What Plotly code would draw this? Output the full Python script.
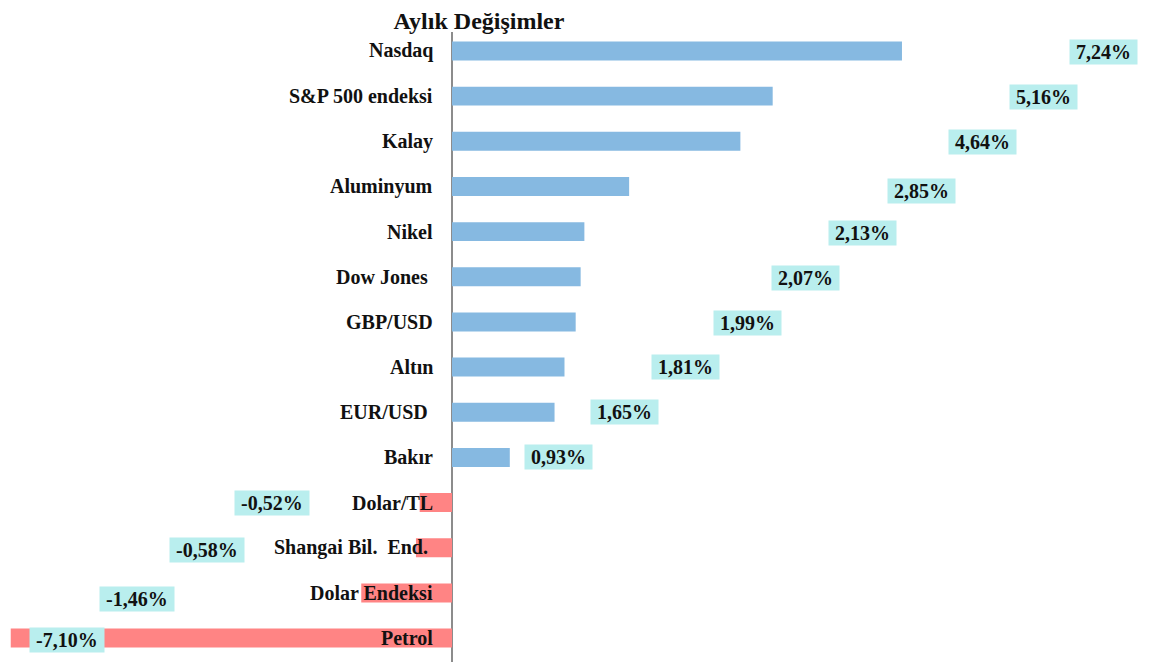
import plotly.graph_objects as go

# ---- data (top to bottom) ----
categories = ["Nasdaq", "S&P 500 endeksi", "Kalay", "Aluminyum", "Nikel",
              "Dow Jones\u00a0", "GBP/USD", "Altın", "EUR/USD\u00a0", "Bakır",
              "Dolar/TL", "Shangai Bil.\u00a0 End.\u00a0", "Dolar Endeksi", "Petrol"]
values = [7.24, 5.16, 4.64, 2.85, 2.13, 2.07, 1.99, 1.81, 1.65, 0.93,
          -0.52, -0.58, -1.46, -7.10]
value_labels = ["7,24%", "5,16%", "4,64%", "2,85%", "2,13%", "2,07%", "1,99%",
                "1,81%", "1,65%", "0,93%", "-0,52%", "-0,58%", "-1,46%", "-7,10%"]
title_text = "Aylık Değişimler"

# ---- layout helpers (label placement, in axis units / px) ----
label_x = [10.49, 9.52, 8.54, 7.56, 6.60, 5.68, 4.76, 3.75, 2.77, 1.71,
           -2.90, -3.94, -5.07, -6.19]
label_dy = [-1, -1, -1, -5, -1, -1, -1, 0, 0, 0, 0, -2, -6, -2]

POS = "#86B9E1"
NEG = "#FF8484"
BOX = "#B9EEEE"
FONT = "Liberation Serif"
NB = "\u00a0"

W, H = 1141, 654          # page body has an 8px margin
AXIS_PX = 444             # x=0 position inside the figure
PX_PER_UNIT = 62.15

colors = [POS if v >= 0 else NEG for v in values]
idx = list(range(len(categories)))

fig = go.Figure()
fig.add_trace(go.Bar(
    x=values, y=idx, orientation="h",
    marker=dict(color=colors, line=dict(width=0)),
    width=0.42, hoverinfo="skip",
))

annotations = []
for i, c in enumerate(categories):
    annotations.append(dict(
        x=0, y=i, xref="x", yref="y", text=f"<b>{c}</b>", showarrow=False,
        xanchor="right", yanchor="middle", xshift=-17,
        font=dict(family=FONT, size=20, color="#111111"),
    ))
for i, t in enumerate(value_labels):
    annotations.append(dict(
        x=label_x[i], y=i, xref="x", yref="y", text=f"<b>{NB}{t}{NB}</b>",
        showarrow=False, xanchor="center", yanchor="middle", yshift=label_dy[i],
        bgcolor=BOX, borderpad=1,
        font=dict(family=FONT, size=20, color="#111111"),
    ))

fig.update_layout(
    width=W, height=H,
    margin=dict(l=0, r=0, t=24, b=0),
    paper_bgcolor="white", plot_bgcolor="white",
    showlegend=False,
    title=dict(text=f"<b>{title_text}</b>", x=471 / W, xanchor="center",
               y=1 - 13 / H, yanchor="middle", yref="container",
               font=dict(family=FONT, size=24, color="#111111")),
    annotations=annotations,
    xaxis=dict(range=[-AXIS_PX / PX_PER_UNIT, (W - AXIS_PX) / PX_PER_UNIT],
               showgrid=False, showticklabels=False, ticks="", zeroline=True,
               zerolinecolor="#8C8C8C", zerolinewidth=1.5, showline=False,
               fixedrange=True),
    yaxis=dict(range=[len(categories) - 1 + 0.53, -0.42], showgrid=False,
               showticklabels=False, ticks="", zeroline=False, showline=False,
               fixedrange=True),
)

fig.write_html("out.html")
